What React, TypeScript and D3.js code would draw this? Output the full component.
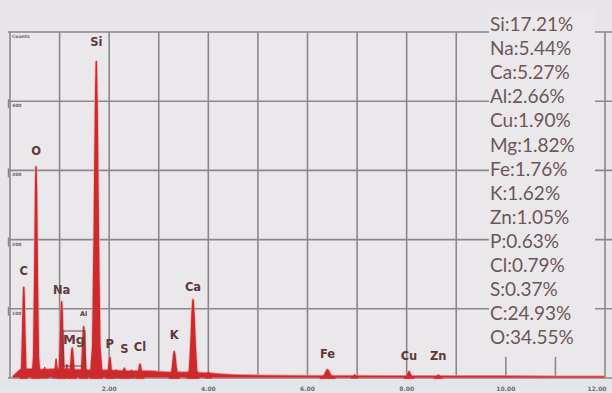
import React from "react";
import * as d3 from "d3";

// Energy axis (keV) and count axis
const xDomain = [0, 12];
const yDomain = [0, 500];
const xGridKeV = [0, 1, 2, 3, 4, 5, 6, 7, 8, 9, 10, 11, 12];
const xTickKeV = [2, 4, 6, 8, 10, 12];
const xTickLabels = ["2.00", "4.00", "6.00", "8.00", "10.00", "12.00"];
const yGridCounts = [0, 100, 200, 300, 400, 500];
const yTickLabels = ["", "100", "200", "300", "400", "Counts"];

// Element peaks
const peakElements = ["C", "O", "Na", "Mg", "Al", "Si", "P", "S", "Cl", "K", "Ca", "Fe", "Cu", "Zn"];
const peakEnergy = [0.277, 0.525, 1.041, 1.254, 1.487, 1.74, 2.013, 2.307, 2.622, 3.313, 3.691, 6.403, 8.047, 8.638];
const peakCounts = [131, 305, 110, 43, 74, 457, 30, 14, 20, 38, 113, 12, 9, 4];
const peakHalfWidth = [0.07, 0.08, 0.08, 0.08, 0.08, 0.12, 0.07, 0.08, 0.08, 0.1, 0.12, 0.15, 0.1, 0.08];
const labelOffset = [12, 12, 8, 0, 11, 16, 9, 15, 13, 13, 9, 12, 12, 15];

// minor unlabeled peaks
const minorEnergy = [0.7, 0.93, 1.15, 2.15, 2.45, 4.0, 6.95];
const minorCounts = [16, 28, 20, 12, 12, 9, 5];

// continuum background
const contE = [0.05, 0.2, 0.4, 0.7, 1.0, 1.3, 1.7, 2.0, 2.4, 2.8, 3.2, 3.6, 4.0, 4.3, 4.6, 5.0, 6.0, 7.0, 8.0, 9.0, 10.0, 11.0, 12.0];
const contC = [3, 13, 14, 13, 14, 13, 12, 12, 11, 11, 9, 9, 8, 6, 5, 4.5, 4, 4, 3.5, 3.5, 3.5, 3, 3];

// legend (composition)
const legendItems = [
  "Si:17.21%", "Na:5.44%", "Ca:5.27%", "Al:2.66%", "Cu:1.90%", "Mg:1.82%", "Fe:1.76%",
  "K:1.62%", "Zn:1.05%", "P:0.63%", "Cl:0.79%", "S:0.37%", "C:24.93%", "O:34.55%",
];

const W = 612;
const H = 393;

export default function App() {
  const x = d3.scaleLinear().domain(xDomain).range([10, 605]);
  const y = d3.scaleLinear().domain(yDomain).range([378, 32]);

  const area = d3
    .area<[number, number]>()
    .x((d) => x(d[0]))
    .y0(y(0))
    .y1((d) => y(d[1]));

  const peakPath = (e: number, h: number, w: number) =>
    area([
      [e - w, 0],
      [e - w * 0.6, h * 0.1],
      [e - w * 0.35, h * 0.45],
      [e - w * 0.14, h * 0.85],
      [e, h],
      [e + w * 0.14, h * 0.85],
      [e + w * 0.35, h * 0.45],
      [e + w * 0.6, h * 0.1],
      [e + w, 0],
    ]) as string;

  const contPath = area(contE.map((e, i) => [e, contC[i]] as [number, number])) as string;

  const gridColor = "#8b878d";
  const bg = "#ebe8eb";
  const red = "#cc2a2c";

  return (
    <svg
      width={W}
      height={H}
      style={{ position: "absolute", left: 0, top: 0, display: "block" }}
    >
      <rect x={0} y={0} width={W} height={H} fill="#e8e6e9" />
      <rect x={10} y={32} width={595} height={346} fill={bg} />
      <rect x={0} y={380} width={W} height={9} fill="#e2e5ea" />

      {/* grid */}
      {xGridKeV.map((e) => (
        <line key={"vx" + e} x1={x(e)} x2={x(e)} y1={32} y2={378} stroke={gridColor} strokeWidth={1.6} />
      ))}
      {yGridCounts.map((c) => (
        <line key={"hy" + c} x1={8} x2={W} y1={y(c)} y2={y(c)} stroke={gridColor} strokeWidth={1.6} />
      ))}
      {yGridCounts.slice(1, 5).map((c) => (
        <line key={"yt" + c} x1={8.5} x2={8.5} y1={y(c) - 2} y2={y(c) + 7} stroke={gridColor} strokeWidth={1.5} />
      ))}
      {yGridCounts.map((c, i) => (
        <text key={"yl" + c} x={12} y={y(c) + 6} fontSize={4.5} fontFamily="DejaVu Sans" fontWeight="bold" fill="#6a6470">
          {yTickLabels[i]}
        </text>
      ))}

      {/* spectrum: pink halo then red body */}
      {peakElements.map((el, i) => (
        <path
          key={"h" + el}
          d={peakPath(peakEnergy[i], peakCounts[i], peakHalfWidth[i])}
          fill="none"
          stroke="#eba3aa"
          strokeWidth={3.2}
          strokeLinejoin="round"
          opacity={0.7}
        />
      ))}
      <path d={contPath} fill={red} stroke="#e0888f" strokeWidth={0.8} />
      {minorEnergy.map((e, i) => (
        <path key={"m" + i} d={peakPath(e, minorCounts[i], 0.07)} fill={red} stroke={red} strokeWidth={1} />
      ))}
      {peakElements.map((el, i) => (
        <path
          key={"p" + el}
          d={peakPath(peakEnergy[i], peakCounts[i], peakHalfWidth[i])}
          fill={red}
          stroke={red}
          strokeWidth={1.4}
          strokeLinejoin="round"
        />
      ))}

      {/* peak labels */}
      {peakElements.map((el, i) =>
        el === "Mg" ? (
          <g key={"l" + el}>
            <rect x={63} y={331} width={22} height={35} fill="none" stroke="#6b4444" strokeWidth={1} />
            <text x={74} y={344} textAnchor="middle" fontSize={13} fontFamily="DejaVu Sans" fontWeight="bold" fill="#6b3c3c">
              Mg
            </text>
          </g>
        ) : (
          <text
            key={"l" + el}
            x={x(peakEnergy[i])}
            y={y(peakCounts[i]) - labelOffset[i]}
            textAnchor="middle"
            fontSize={el === "Al" ? 6.5 : 11.5}
            fontFamily="DejaVu Sans"
            fontWeight="bold"
            fill="#5c3a3a"
          >
            {el}
          </text>
        )
      )}

      {/* x tick labels */}
      {xTickKeV.map((e, i) => (
        <text key={"xt" + e} x={e === 12 ? x(e) - 8 : x(e)} y={391} textAnchor="middle" fontSize={6} fontFamily="DejaVu Sans" fontWeight="bold" fill="#706a72">
          {xTickLabels[i]}
        </text>
      ))}

      {/* legend */}
      <rect x={489} y={10} width={106} height={347} fill={bg} />
      {legendItems.map((t, i) => (
        <text key={"lg" + i} x={490} y={31 + i * 24.1} fontSize={19} fontFamily="Lato" fill="#6b5757">
          {t}
        </text>
      ))}
    </svg>
  );
}
